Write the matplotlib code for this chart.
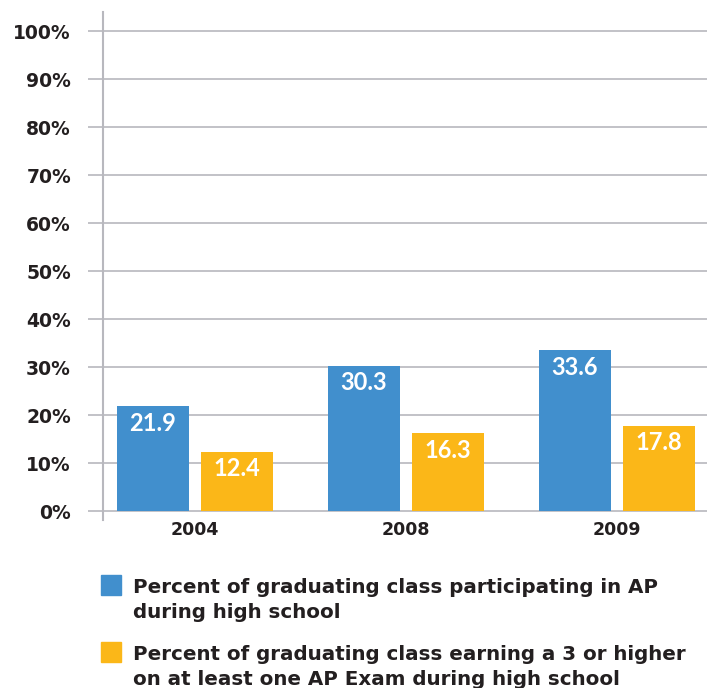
import matplotlib
matplotlib.use("Agg")
import matplotlib.pyplot as plt
from matplotlib.patches import Rectangle
import numpy as np

years = ["2004", "2008", "2009"]
participating = [21.9, 30.3, 33.6]
earning_3plus = [12.4, 16.3, 17.8]
series_labels = [
    "Percent of graduating class participating in AP\nduring high school",
    "Percent of graduating class earning a 3 or higher\non at least one AP Exam during high school",
]
y_ticks = [0, 10, 20, 30, 40, 50, 60, 70, 80, 90, 100]

BLUE = "#418fcd"
GOLD = "#fbb718"
GRID = "#b8b8be"
TEXT = "#231f20"

W, H = 707, 688
fig = plt.figure(figsize=(W / 100, H / 100), dpi=100)

def px_box(left, top, right, bottom):
    return [left / W, 1 - bottom / H, (right - left) / W, (bottom - top) / H]

ax = fig.add_axes(px_box(103, 12, 707, 520))

x = np.arange(len(years))
offset = 0.2
width = 0.341
b1 = ax.bar(x - offset, participating, width, color=BLUE, zorder=3)
b2 = ax.bar(x + offset, earning_3plus, width, color=GOLD, zorder=3)

for bars, vals in ((b1, participating), (b2, earning_3plus)):
    for rect, v in zip(bars, vals):
        ax.annotate(f"{v:.1f}", (rect.get_x() + rect.get_width() / 2, v),
                    xytext=(0, -12.5), textcoords="offset points",
                    ha="center", va="center", color="white",
                    fontsize=17, fontweight="bold", family="Lato", zorder=4)

ax.set_xlim(-0.436, -0.436 + 604 / 211)
ax.set_ylim(-1.875, 104)

ax.set_yticks(y_ticks)
ax.set_yticklabels([f"{t}%" for t in y_ticks], fontsize=13.5,
                   fontweight="bold", color=TEXT, family="DejaVu Sans")
ax.tick_params(axis="y", length=11, width=1.2, color=GRID, pad=12)
ax.yaxis.grid(True, color=GRID, linewidth=1.2, zorder=0)

ax.set_xticks(x)
ax.set_xticklabels(years, fontsize=12.5, fontweight="bold", color=TEXT,
                   family="DejaVu Sans")
ax.tick_params(axis="x", length=0, pad=1)

for s in ("top", "right", "bottom"):
    ax.spines[s].set_visible(False)
ax.spines["left"].set_color(GRID)
ax.spines["left"].set_linewidth(1.5)

# legend drawn in figure pixel space: swatch, then one text per line
for (top, color, label) in ((575, BLUE, series_labels[0]),
                            (642, GOLD, series_labels[1])):
    fig.patches.append(Rectangle((101 / W, 1 - (top + 20) / H), 20 / W, 20 / H,
                                 transform=fig.transFigure, color=color))
    for i, line in enumerate(label.split("\n")):
        baseline = top + 18 + 25 * i
        fig.text(133 / W, 1 - baseline / H, line, ha="left", va="baseline",
                 fontsize=14.3, fontweight="bold", family="DejaVu Sans",
                 color=TEXT)

fig.savefig("out.png", dpi=100)
